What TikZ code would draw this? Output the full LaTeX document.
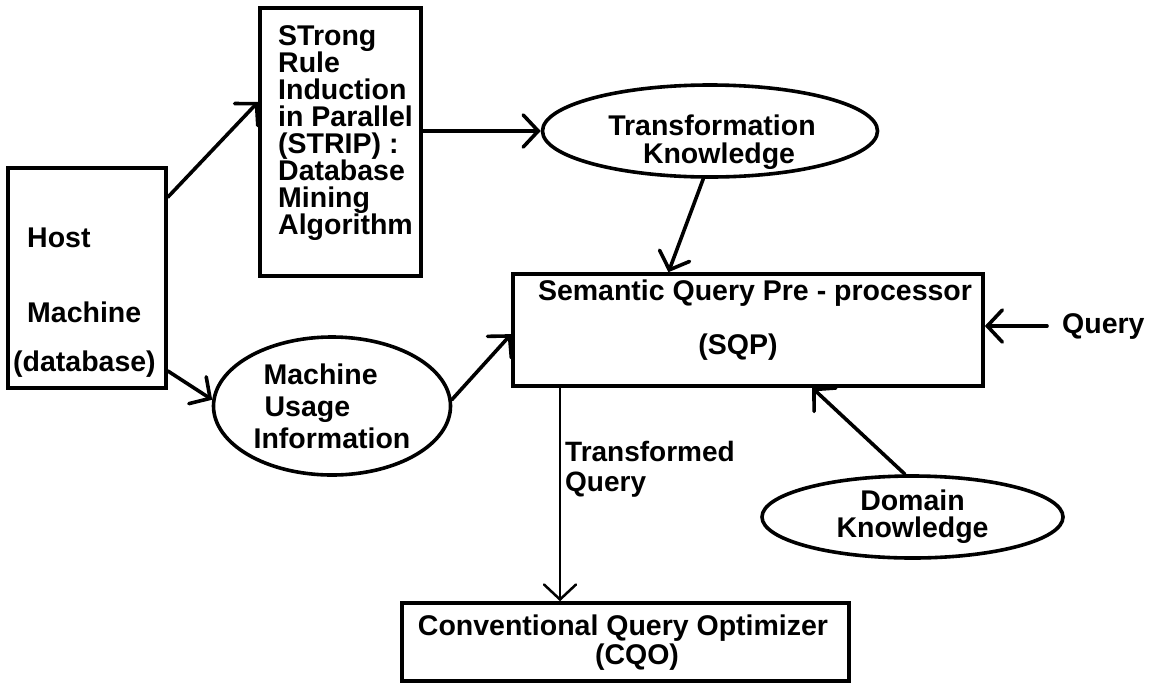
\documentclass[tikz,border=0pt]{standalone}
\usepackage{fontspec}
\setmainfont{Liberation Sans}
\usetikzlibrary{arrows.meta,shapes.geometric}
\begin{document}
\begin{tikzpicture}[x=1pt,y=-1pt,
  box/.style={draw, line width=3.6pt, inner sep=0pt},
  ell/.style={draw, ellipse, line width=3.6pt, inner sep=0pt, align=center,
    font=\bfseries\fontsize{28.5}{27}\selectfont},
  txt/.style={inner sep=0pt, font=\bfseries\fontsize{28.5}{27}\selectfont},
  arr/.style={line width=3.6pt, line cap=round,
    -{Straight Barb[length=15pt,width=32pt,line cap=round]}},
]
\fill[white] (0,0) rectangle (1150,683);
\useasboundingbox (0,0) rectangle (1150,683);

% boxes
\node[box, minimum width=158pt, minimum height=220pt] (host) at (87,278) {};
\node[txt, anchor=base west] (hostA) at (27,247) {Host};
\node[txt, anchor=base west] (hostB) at (27,322) {Machine};
\node[txt, anchor=base west] (hostC) at (13,371) {(database)};

\node[box, minimum width=161pt, minimum height=268pt] (strip) at (340.5,142) {};
\node[txt, anchor=north west, align=left] (striptxt) at (278,25)
  {STrong\\Rule\\Induction\\in Parallel\\(STRIP) :\\Database\\Mining\\Algorithm};

\node[box, minimum width=470pt, minimum height=112pt] (sqp) at (748,330) {};
\node[txt, anchor=base] (sqpA) at (755,300) {Semantic Query Pre - processor};
\node[txt, anchor=base] (sqpB) at (738,354) {(SQP)};

\node[box, minimum width=447pt, minimum height=78pt] (cqo) at (625.5,642) {};
\node[txt, anchor=base] (cqoA) at (623,635) {Conventional Query Optimizer};
\node[txt, anchor=base] (cqoB) at (637,664) {(CQO)};

% ellipses
\node[ell, minimum width=335pt, minimum height=92pt] (trans) at (710,131) {};
\node[txt, anchor=base] (transA) at (712,135) {Transformation};
\node[txt, anchor=base] (transB) at (719,163) {Knowledge};

\node[ell, minimum width=237pt, minimum height=138pt, align=left,
  font=\bfseries\fontsize{28.5}{32}\selectfont] (mui) at (332,406)
  {\hspace*{10pt}Machine\\\hspace*{11pt}Usage\\Information};
\node[ell, minimum width=301pt, minimum height=82pt,
  font=\bfseries\fontsize{28.5}{27}\selectfont] (dom) at (912.5,517)
  {Domain\\Knowledge};

% free texts
\node[txt, anchor=base west] (query) at (1062,333) {Query};
\node[txt, anchor=north west, align=left,
  font=\bfseries\fontsize{28}{30}\selectfont] (tq) at (565,441)
  {Transformed\\Query};

% connectors
\draw[arr] (host.45) -- (strip.154);
\draw[arr] (host.-49) -- (mui.177);
\draw[arr] (trans.west -| strip.east) -- (trans.west);
\draw[arr] (trans.-98) -- (sqp.144);
\draw[arr] (mui.3) -- (sqp.181);
\draw[arr, shorten <=15pt] (query.west) -- (query.west -| sqp.east);
\draw[arr] (dom.100) -- (sqp.-42);
\coordinate (tqx) at (560,0);
\draw[arr, line width=2.5pt] (sqp.south -| tqx) -- (cqo.north -| tqx);
\end{tikzpicture}
\end{document}
